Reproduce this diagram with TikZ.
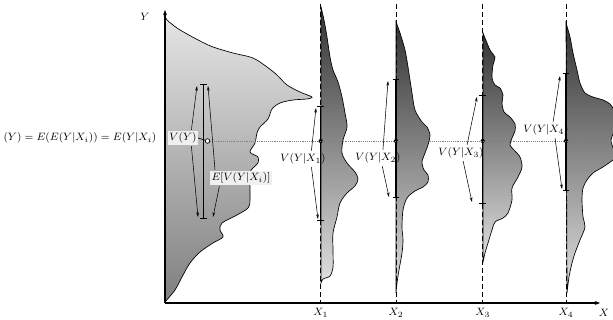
\documentclass[tikz,border=0pt]{standalone}
\usetikzlibrary{arrows.meta}

\begin{document}
\begin{tikzpicture}[x=0.75pt,y=-0.75pt]
\tikzstyle{every node}=[inner sep=1pt, font=\fontsize{8.5}{10}\selectfont];
\tikzstyle{marg}=[draw, line width=0.5pt, top color=black!10, bottom color=black!50];
\tikzstyle{cond}=[draw, line width=0.5pt, top color=black!80, bottom color=black!12];
\tikzstyle{xline}=[dash pattern=on 3.5pt off 2.5pt, line width=0.7pt];
\tikzstyle{vbar}=[line width=1pt, {Bar[width=5pt]}-{Bar[width=5pt]}];
\tikzstyle{varr}=[-{Stealth[length=3.5pt,width=2pt]}, line width=0.4pt, shorten <=1pt];
\tikzstyle{hl}=[fill=black!6];
\tikzstyle{mdot}=[circle, fill, inner sep=1.1pt];

\useasboundingbox (0,0) rectangle (613,320);

% marginal density of Y
\draw[marg] plot[smooth, tension=0.5] coordinates {(165,15) (167,20) (177,28) (187,34)
  (200,41) (213,47) (233,53) (253,58) (267,67) (277,75) (287,85) (300,92) (310,96)
  (312,97.5) (307,99) (293,100) (280,103) (272,109) (268,119) (260,127) (257,133)
  (255,143) (250,152) (258,157) (258,163) (253,168) (250,174) (250,200) (248,208)
  (237,215) (222,223) (220,230) (223,237) (213,243) (200,252) (190,263) (182,277)
  (175,290) (165,302)} -- cycle;

% conditional densities
\draw[cond] plot[smooth, tension=0.5] coordinates {(321,7) (324,20) (327,37) (330,57)
  (333,70) (338,82) (342,97) (345,113) (347,127) (343,140) (342,153) (347,163)
  (355,172) (358,179) (355,186) (347,193) (340,203) (337,217) (333,233) (333,250)
  (333,267) (330,276) (323,279) (321,283)} -- cycle;
\draw[cond] plot[smooth, tension=0.5] coordinates {(396,22) (400,33) (405,50) (408,67)
  (412,93) (415,110) (422,122) (427,127) (430,135) (428,145) (425,153) (422,162)
  (424,170) (428,175) (428,182) (423,187) (415,191) (407,198) (403,210) (402,227)
  (403,240) (402,253) (399,270) (397,283) (396,293)} -- cycle;
\draw[cond] plot[smooth, tension=0.5] coordinates {(483,33) (490,50) (495,57) (493,65)
  (492,78) (495,85) (500,88) (503,95) (502,103) (504,112) (510,117) (515,124)
  (515,131) (512,138) (510,145) (514,150) (520,157) (522,167) (518,177) (512,188)
  (512,200) (508,213) (503,218) (495,222) (492,230) (488,243) (485,253) (483,262)} -- cycle;
\draw[cond] plot[smooth, tension=0.5] coordinates {(566,23) (570,37) (573,53) (577,70)
  (580,83) (585,93) (593,97) (603,100) (610,104) (614,110) (618,120) (614,132)
  (611,140) (614,150) (618,155) (613,160) (603,167) (593,173) (587,180) (583,188)
  (582,200) (583,217) (585,227) (580,240) (575,253) (572,263) (569,277) (567,293)} -- cycle;

% axes
\coordinate (o) at (165,303);
\coordinate (ytop) at (165,10);
\coordinate (xend) at (600,303);
\draw[line width=0.8pt, -{Stealth[length=4pt,width=3pt]}] (o) -- (ytop);
\draw[line width=0.8pt, -{Stealth[length=4pt,width=3pt]}] (o) -- (xend);
\draw (145,17) node (ylab) {$Y$};
\draw (604,313) node (xlab) {$X$};

% x positions
\coordinate (x1t) at (320.7,4);
\coordinate (x2t) at (396,4);
\coordinate (x3t) at (482.7,4);
\coordinate (x4t) at (566,4);
\draw (320.7,313) node (x1) {$X_1$};
\draw (396,313) node (x2) {$X_2$};
\draw (482.7,313) node (x3) {$X_3$};
\draw (566,313) node (x4) {$X_4$};
\draw[xline] (x1t) -- (x1t |- o);
\draw[xline] (x2t) -- (x2t |- o);
\draw[xline] (x3t) -- (x3t |- o);
\draw[xline] (x4t) -- (x4t |- o);

% spreads
\coordinate (b0t) at (203.5,84);
\coordinate (b0b) at (203.5,219);
\coordinate (b1t) at (320.7,106);
\coordinate (b1b) at (320.7,221);
\coordinate (b2t) at (396,79);
\coordinate (b2b) at (396,198);
\coordinate (b3t) at (482.7,95);
\coordinate (b3b) at (482.7,204);
\coordinate (b4t) at (566,73);
\coordinate (b4b) at (566,191);
\draw[vbar] (b0t) -- (b0b);
\draw[vbar] (b1t) -- (b1b);
\draw[vbar] (b2t) -- (b2b);
\draw[vbar] (b3t) -- (b3b);
\draw[vbar] (b4t) -- (b4b);

% means
\draw (207.5,141) node[circle, draw, fill=white, inner sep=1.2pt, line width=0.5pt] (c0) {};
\draw (320.7,141) node[mdot] (m1) {};
\draw (396,141) node[mdot] (m2) {};
\draw (482.7,141) node[mdot] (m3) {};
\draw (566,141) node[mdot] (m4) {};
\coordinate (dend) at (613,141);
\draw[black!50, densely dotted] (c0) -- (dend);

% labels
\draw (158,138) node[anchor=east] (eq) {$(Y)=E(E(Y|X_i))=E(Y|X_i)$};
\draw (183,138) node[hl] (vy) {$V(Y)$};
\draw (241,178) node[hl] (ev) {$E[V(Y|X_i)]$};
\draw (303,159) node (v1) {$V(Y|X_1)$};
\draw (378,158) node (v2) {$V(Y|X_2)$};
\draw (461,153) node (v3) {$V(Y|X_3)$};
\draw (546,130) node (v4) {$V(Y|X_4)$};
\draw[line width=0.5pt] (vy.east) -- (c0);

% arrow ends
\coordinate (a0t) at (197,86);
\coordinate (a0b) at (198,217);
\coordinate (e0t) at (208,86);
\coordinate (e0b) at (213,217);
\coordinate (a1t) at (316,108);
\coordinate (a1b) at (318,219);
\coordinate (a2t) at (388,81);
\coordinate (a2b) at (389,197);
\coordinate (a3t) at (477,97);
\coordinate (a3b) at (472,202);
\coordinate (a4t) at (560,76);
\coordinate (a4b) at (562,189);

\draw[varr] (vy.40) -- (a0t);
\draw[varr] (vy.-40) -- (a0b);
\draw[varr] (ev.165) -- (e0t);
\draw[varr] (ev.198) -- (e0b);
\draw[varr] (v1.40) -- (a1t);
\draw[varr] (v1.-40) -- (a1b);
\draw[varr] (v2.55) -- (a2t);
\draw[varr] (v2.-60) -- (a2b);
\draw[varr] (v3.50) -- (a3t);
\draw[varr] (v3.-75) -- (a3b);
\draw[varr] (v4.45) -- (a4t);
\draw[varr] (v4.-38) -- (a4b);

\end{tikzpicture}
\end{document}
